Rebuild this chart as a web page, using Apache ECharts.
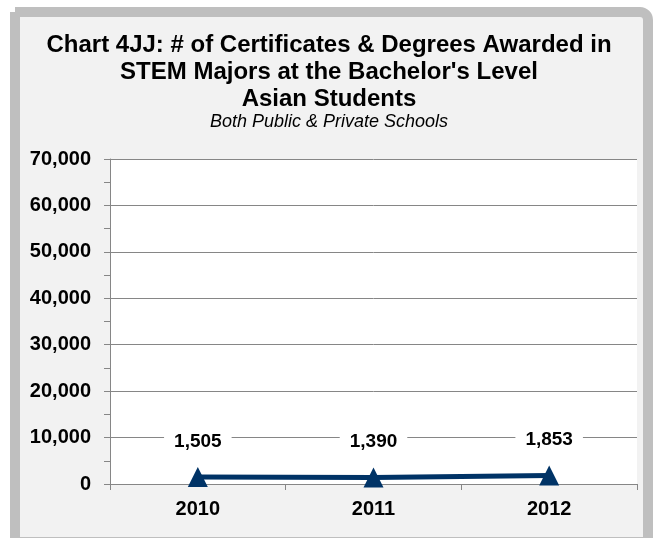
<!DOCTYPE html>
<html><head><meta charset="utf-8">
<script src="https://cdn.jsdelivr.net/npm/echarts@6/dist/echarts.min.js"></script>
<style>html,body{margin:0;padding:0;background:#fff}#c{width:654px;height:538px}</style>
</head><body><div id="c"></div>
<script>
const titleLines = ["Chart 4JJ: # of Certificates & Degrees Awarded in", "STEM Majors at the Bachelor's Level", "Asian Students"];
const subtitle = "Both Public & Private Schools";
const categories = ["2010", "2011", "2012"];
const values = [1505, 1390, 1853];
const yTicks = [0, 10000, 20000, 30000, 40000, 50000, 60000, 70000];

const chart = echarts.init(document.getElementById('c'), null, {renderer: 'canvas'});
const fmt = v => v.toLocaleString('en-US');
const FF = '"Liberation Sans", Arial, sans-serif';
chart.setOption({
  backgroundColor: '#ffffff',
  animation: false,
  graphic: [
    {type: 'rect', z: -10, shape: {x: 15, y: 12, width: 633, height: 530, r: [0, 8, 0, 0]},
     style: {fill: '#f2f2f2', stroke: '#bfbfbf', lineWidth: 10}},
    {type: 'text', x: 329, y: 32, z: 5,
     style: {text: titleLines.join('\n'), font: 'bold 24px ' + FF, fill: '#000', align: 'center', verticalAlign: 'top', lineHeight: 27}},
    {type: 'text', x: 329, y: 113, z: 5,
     style: {text: subtitle, font: 'italic 18px ' + FF, fill: '#000', align: 'center', verticalAlign: 'top'}}
  ],
  grid: {left: 110, right: 17, top: 159, bottom: 54, show: true, backgroundColor: '#ffffff', borderWidth: 0},
  xAxis: {
    type: 'category', data: categories, boundaryGap: true,
    axisLine: {lineStyle: {color: '#868686', width: 1}},
    axisTick: {show: true, length: 6, interval: 0, lineStyle: {color: '#868686'}},
    axisLabel: {color: '#000', fontWeight: 'bold', fontSize: 20, fontFamily: FF, margin: 15}
  },
  yAxis: {
    type: 'value', min: yTicks[0], max: yTicks[yTicks.length - 1], interval: 10000,
    axisLine: {show: true, lineStyle: {color: '#868686'}},
    axisTick: {show: true, length: 6, inside: false, lineStyle: {color: '#868686'}},
    minorTick: {show: true, splitNumber: 2, length: 6, lineStyle: {color: '#868686'}},
    splitLine: {show: true, lineStyle: {color: '#868686', width: 1}},
    axisLabel: {color: '#000', fontWeight: 'bold', fontSize: 20, fontFamily: FF, margin: 19, formatter: v => fmt(v)}
  },
  series: [{
    type: 'line', data: values,
    symbol: 'triangle', symbolSize: [20, 20],
    lineStyle: {color: '#003366', width: 5},
    itemStyle: {color: '#003366'},
    label: {show: true, position: 'top', distance: 14, formatter: p => fmt(p.value),
      color: '#000', fontWeight: 'bold', fontSize: 19, fontFamily: FF,
      backgroundColor: '#ffffff', padding: [2, 10]}
  }]
});
</script></body></html>
